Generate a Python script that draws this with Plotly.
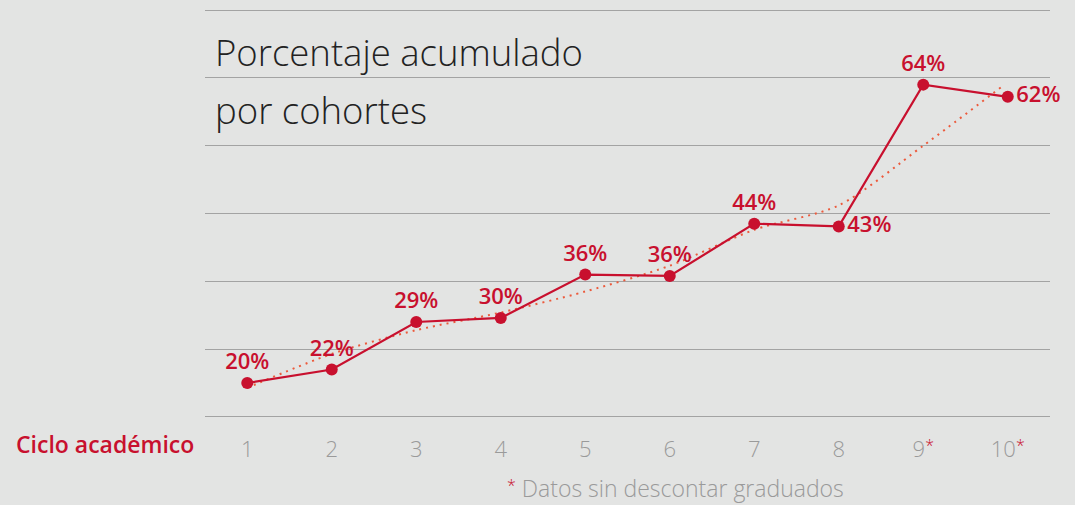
import plotly.graph_objects as go

cycles = [1, 2, 3, 4, 5, 6, 7, 8, 9, 10]
STAR = "<span style='color:#c8102e;font-size:16px;baseline-shift:35%'>*</span>"
tick_labels = ["1", "2", "3", "4", "5", "6", "7", "8", "9" + STAR, "10" + STAR]
pct = [20, 22, 29, 29.6, 36, 35.8, 43.5, 43.1, 64, 62.2]
pct_labels = ["20%", "22%", "29%", "30%", "36%", "36%", "44%", "43%", "64%", "62%"]
label_pos = ["top center"] * 7 + ["middle right", "top center", "middle right"]
trend_x = [1, 2, 3, 4, 5, 6, 7, 8, 9, 9.93]
trend_y = [19.3, 24.3, 27.8, 30.4, 33.5, 37.3, 42.6, 46.2, 55.0, 63.7]

RED = "#c8102e"
BG = "#e3e4e3"
FONT = "Open Sans"

fig = go.Figure()
fig.add_trace(go.Scatter(
    x=trend_x, y=trend_y, mode="lines",
    line=dict(color="#ec5a3c", width=2, dash="2px,5px", shape="spline", smoothing=0.8),
    hoverinfo="skip", showlegend=False))
fig.add_trace(go.Scatter(
    x=cycles, y=pct, mode="lines+markers+text",
    line=dict(color=RED, width=2.2),
    marker=dict(color=RED, size=12),
    text=pct_labels, textposition=label_pos, cliponaxis=False,
    textfont=dict(family=FONT, size=22, color=RED, weight=600),
    showlegend=False))

fig.update_layout(
    width=1075, height=505,
    margin=dict(l=205, r=25, t=9, b=87),
    paper_bgcolor=BG, plot_bgcolor=BG,
    font=dict(family=FONT),
    xaxis=dict(range=[0.5, 10.5], tickmode="array", tickvals=cycles, ticktext=tick_labels,
               showgrid=False, zeroline=False, showline=False, ticks="",
               tickfont=dict(family=FONT, size=22, color="#9a9a9a", weight=300),
               ticklabelstandoff=16, fixedrange=True),
    yaxis=dict(range=[14.85, 75.15], tick0=15, dtick=10, showticklabels=False,
               showgrid=True, gridcolor="#a3a3a3", gridwidth=1.3, zeroline=False,
               showline=False, ticks="", fixedrange=True),
    annotations=[
        dict(text="Porcentaje acumulado", xref="paper", yref="paper", x=0.0095, y=0.895,
             xanchor="left", yanchor="middle", showarrow=False,
             font=dict(family=FONT, size=36.5, color="#222222", weight=300)),
        dict(text="por cohortes", xref="paper", yref="paper", x=0.0095, y=0.752,
             xanchor="left", yanchor="middle", showarrow=False,
             font=dict(family=FONT, size=36.5, color="#222222", weight=300)),
        dict(text="Ciclo académico", xref="paper", yref="paper", x=-0.011, y=-0.063,
             xanchor="right", yanchor="middle", showarrow=False,
             font=dict(family=FONT, size=23, color=RED, weight=600)),
        dict(text=STAR + " Datos sin descontar graduados",
             xref="paper", yref="paper", x=0.557, y=-0.172,
             xanchor="center", yanchor="middle", showarrow=False,
             font=dict(family=FONT, size=23, color="#9a9a9a", weight=300)),
    ],
)

fig.write_html("out.html", config={"displayModeBar": False},
               post_script="document.body.style.margin='0';document.body.style.background='#e3e4e3';")
